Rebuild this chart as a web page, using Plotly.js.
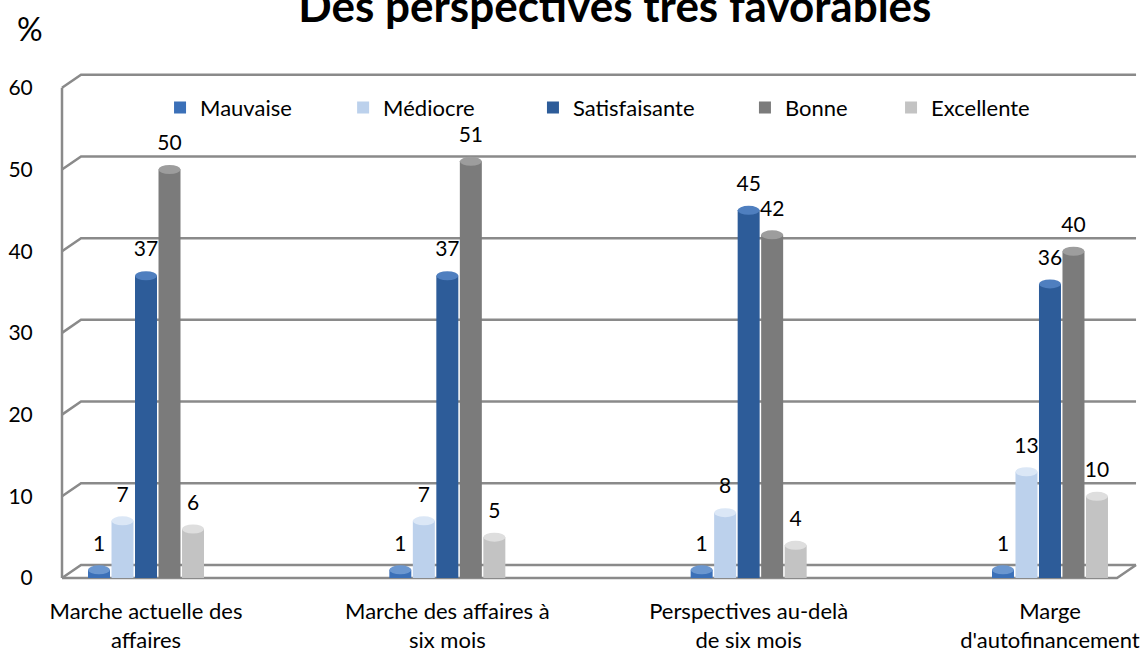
<!DOCTYPE html>
<html>
<head>
<meta charset="utf-8">
<script src="https://cdn.plot.ly/plotly-3.0.1.min.js"></script>
<style>html,body{margin:0;padding:0;background:#fff;}#chart{width:1145px;height:659px;}</style>
</head>
<body>
<div id="chart"></div>
<script>
// ---- data ----
const categories = ["Marche actuelle des<br>affaires", "Marche des affaires à<br>six mois", "Perspectives au-delà<br>de six mois", "Marge<br>d'autofinancement"];
const seriesNames = ["Mauvaise", "Médiocre", "Satisfaisante", "Bonne", "Excellente"];
const mauvaise = [1, 1, 1, 1];
const mediocre = [7, 7, 8, 13];
const satisfaisante = [37, 37, 45, 36];
const bonne = [50, 51, 42, 40];
const excellente = [6, 5, 4, 10];
const yTicks = [0, 10, 20, 30, 40, 50, 60];

// ---- style ----
const colors = ["#3b70b8", "#bcd1ec", "#2d5c99", "#7b7b7b", "#c3c3c3"];
const capColors = ["#6b97d0", "#dbe7f6", "#4f7fbf", "#9d9d9d", "#dedede"];
const FONT = "Lato, 'Noto Sans', sans-serif";
const series = [mauvaise, mediocre, satisfaisante, bonne, excellente];
const xIdx = categories.map((_, i) => i);
const bargap = 0.61, bargroupgap = 0.064;
const pitch = (1 - bargap) / series.length;
const barW = pitch * (1 - bargroupgap);
const depth = 1.6;        // back-wall offset (y units)
const wallDx = 0.0177;    // back-wall offset (paper)
const gridColor = "#8a8a8a";
const legendX = [0.0912, 0.2615, 0.4381, 0.6353, 0.7712];
const legendIds = ["legend", "legend2", "legend3", "legend4", "legend5"];

const traces = [];
series.forEach((vals, j) => {
  traces.push({
    type: "bar", name: seriesNames[j], x: xIdx, y: vals, legend: legendIds[j],
    marker: {color: colors[j], line: {width: 0}},
    hoverinfo: "skip"
  });
});
// value labels
series.forEach((vals, j) => {
  traces.push({
    type: "scatter", mode: "text", showlegend: false, hoverinfo: "skip",
    x: xIdx.map(i => i + (j - (series.length - 1) / 2) * pitch),
    y: vals.map(v => v + 3.0),
    text: vals.map(v => String(v)),
    textposition: "middle center",
    textfont: {family: FONT, size: 21, color: "#000"},
    cliponaxis: false
  });
});

const shapes = [];
shapes.push({type: "line", xref: "paper", yref: "y", x0: 0, x1: 0, y0: 0, y1: yTicks[yTicks.length - 1], line: {color: gridColor, width: 2.5}, layer: "below"});
yTicks.forEach(v => {
  shapes.push({type: "path", xref: "paper", yref: "y",
    path: `M0,${v} L${wallDx},${v + depth} L0.9991,${v + depth}`,
    line: {color: gridColor, width: 2.5}, layer: "below"});
});
shapes.push({type: "path", xref: "paper", yref: "y",
  path: `M0,0 L0.9814,0 L0.9991,${depth}`,
  line: {color: gridColor, width: 2.5}, layer: "below"});
series.forEach((vals, j) => {
  vals.forEach((v, i) => {
    const xc = i + (j - (series.length - 1) / 2) * pitch;
    shapes.push({type: "circle", xref: "x", yref: "y",
      x0: xc - barW / 2, x1: xc + barW / 2, y0: v - 0.55, y1: v + 0.55,
      fillcolor: capColors[j], line: {width: 0}, layer: "above"});
  });
});

const layout = {
  width: 1145, height: 659,
  paper_bgcolor: "#fff", plot_bgcolor: "rgba(0,0,0,0)",
  margin: {l: 62, r: 8, t: 70, b: 79},
  font: {family: FONT, size: 20, color: "#000"},
  title: {text: "<b>Des perspectives très favorables</b>", font: {family: FONT, size: 44, color: "#000"},
          x: 0.537, xanchor: "center", xref: "container", y: 0.990, yanchor: "middle", yref: "container"},
  barmode: "group", bargap: bargap, bargroupgap: bargroupgap,
  xaxis: {type: "linear", range: [-0.2788, 3.2888], tickvals: xIdx, ticktext: categories,
          showgrid: false, zeroline: false, showline: false, ticklabeloverflow: "allow",
          ticks: "outside", ticklen: 12, tickcolor: "rgba(0,0,0,0)",
          tickfont: {family: FONT, size: 22, color: "#000"}, fixedrange: true},
  yaxis: {range: [-0.245, 62.18], tickvals: yTicks, showgrid: false, zeroline: false, showline: false,
          ticks: "outside", ticklen: 24, tickcolor: "rgba(0,0,0,0)",
          tickfont: {family: FONT, size: 21, color: "#000"}, fixedrange: true},
  shapes: shapes,
  annotations: [{text: "%", xref: "paper", yref: "paper", x: -0.0298, y: 1.082, xanchor: "center", yanchor: "middle",
                 showarrow: false, font: {family: FONT, size: 32, color: "#000"}}]
};
legendIds.forEach((id, j) => {
  layout[id] = {orientation: "h", x: legendX[j], xanchor: "left", y: 0.926, yanchor: "middle",
                bgcolor: "rgba(0,0,0,0)", borderwidth: 0, font: {family: FONT, size: 22, color: "#000"}};
});

Plotly.newPlot("chart", traces, layout, {displayModeBar: false, staticPlot: true});
</script>
</body>
</html>
